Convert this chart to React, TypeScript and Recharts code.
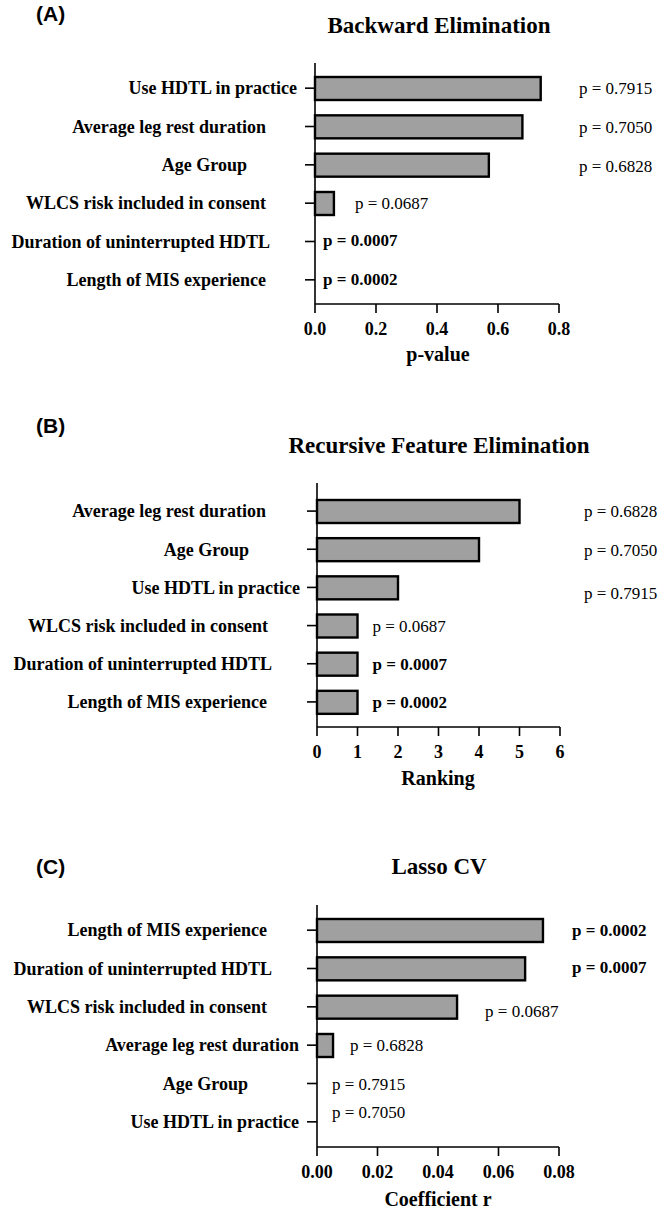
import React from 'react';
import { BarChart, Bar, XAxis, YAxis } from 'recharts';

// ---------- DATA ----------
const categoriesA = [
  'Use HDTL in practice',
  'Average leg rest duration',
  'Age Group',
  'WLCS risk included in consent',
  'Duration of uninterrupted HDTL',
  'Length of MIS experience',
];
const valuesA = [0.74, 0.68, 0.57, 0.062, 0, 0];
const pValuesA = ['0.7915', '0.7050', '0.6828', '0.0687', '0.0007', '0.0002'];
const ticksA = [0, 0.2, 0.4, 0.6, 0.8];

const categoriesB = [
  'Average leg rest duration',
  'Age Group',
  'Use HDTL in practice',
  'WLCS risk included in consent',
  'Duration of uninterrupted HDTL',
  'Length of MIS experience',
];
const valuesB = [5, 4, 2, 1, 1, 1];
const pValuesB = ['0.6828', '0.7050', '0.7915', '0.0687', '0.0007', '0.0002'];
const ticksB = [0, 1, 2, 3, 4, 5, 6];

const categoriesC = [
  'Length of MIS experience',
  'Duration of uninterrupted HDTL',
  'WLCS risk included in consent',
  'Average leg rest duration',
  'Age Group',
  'Use HDTL in practice',
];
const valuesC = [0.0747, 0.0688, 0.0463, 0.0053, 0, 0];
const pValuesC = ['0.0002', '0.0007', '0.0687', '0.6828', '0.7915', '0.7050'];
const ticksC = [0, 0.02, 0.04, 0.06, 0.08];

const titles = ['Backward Elimination', 'Recursive Feature Elimination', 'Lasso CV'];
const panelLetters = ['(A)', '(B)', '(C)'];
const axisTitles = ['p-value', 'Ranking', 'Coefficient r'];

// ---------- STYLE ----------
const SERIF = '"Liberation Serif", "Times New Roman", Times, serif';
const SANS = '"Liberation Sans", Arial, Helvetica, sans-serif';
const X_AXIS_H = 60;

type Placement = { mode: 'col' | 'end'; dx: number; dy: number };

const build = (cats: string[], vals: number[], ps: string[]) =>
  cats.map((c, i) => ({ name: c, value: vals[i], p: ps[i] }));

const panels = [
  {
    data: build(categoriesA, valuesA, pValuesA),
    pList: pValuesA,
    ticks: ticksA,
    decimals: 1,
    top: 0,
    height: 380,
    margin: { top: 63, right: 102, bottom: 16, left: 0 },
    yWidth: 315,
    yPadding: { top: 6, bottom: 5 },
    labelRight: {
      'Use HDTL in practice': -18,
      'Average leg rest duration': -49,
      'Age Group': -68,
      'WLCS risk included in consent': -49,
      'Duration of uninterrupted HDTL': -45,
      'Length of MIS experience': -49,
    } as Record<string, number>,
    placements: [
      { mode: 'col', dx: 264, dy: 0 },
      { mode: 'col', dx: 264, dy: 0 },
      { mode: 'col', dx: 264, dy: 1 },
      { mode: 'end', dx: 21, dy: 0 },
      { mode: 'end', dx: 8, dy: -2 },
      { mode: 'end', dx: 8, dy: -1 },
    ] as Placement[],
  },
  {
    data: build(categoriesB, valuesB, pValuesB),
    pList: pValuesB,
    ticks: ticksB,
    decimals: 0,
    top: 400,
    height: 400,
    margin: { top: 83, right: 101, bottom: 13, left: 0 },
    yWidth: 317,
    yPadding: { top: 9, bottom: 6 },
    labelRight: {
      'Average leg rest duration': -51,
      'Age Group': -68,
      'Use HDTL in practice': -17,
      'WLCS risk included in consent': -49,
      'Duration of uninterrupted HDTL': -45,
      'Length of MIS experience': -50,
    } as Record<string, number>,
    placements: [
      { mode: 'col', dx: 267, dy: 0 },
      { mode: 'col', dx: 267, dy: 0 },
      { mode: 'col', dx: 267, dy: 5 },
      { mode: 'end', dx: 15, dy: 0 },
      { mode: 'end', dx: 15, dy: 0 },
      { mode: 'end', dx: 15, dy: 0 },
    ] as Placement[],
  },
  {
    data: build(categoriesC, valuesC, pValuesC),
    pList: pValuesC,
    ticks: ticksC,
    decimals: 2,
    top: 820,
    height: 393,
    margin: { top: 85, right: 102, bottom: 6, left: 0 },
    yWidth: 317,
    yPadding: { top: 6, bottom: 6 },
    labelRight: {
      'Length of MIS experience': -50,
      'Duration of uninterrupted HDTL': -45,
      'WLCS risk included in consent': -50,
      'Average leg rest duration': -18,
      'Age Group': -69,
      'Use HDTL in practice': -18,
    } as Record<string, number>,
    placements: [
      { mode: 'col', dx: 255, dy: 0 },
      { mode: 'col', dx: 255, dy: -2 },
      { mode: 'end', dx: 28, dy: 4 },
      { mode: 'end', dx: 17, dy: 0 },
      { mode: 'end', dx: 15, dy: 0 },
      { mode: 'end', dx: 15, dy: -10 },
    ] as Placement[],
  },
];

// overlay text positions (titles etc.)
const overlay = [
  { letterY: 21, titleY: 33, axisTitleY: 361 },
  { letterY: 433, titleY: 453, axisTitleY: 785 },
  { letterY: 874, titleY: 874, axisTitleY: 1206 },
];

function Panel({ cfg }: { cfg: (typeof panels)[number] }) {
  const axisX = cfg.yWidth + cfg.margin.left;
  const plotBottom = cfg.height - cfg.margin.bottom - X_AXIS_H;

  const YTick = (props: any) => {
    const { y, payload } = props;
    const off = cfg.labelRight[payload.value] ?? -49;
    return (
      <text
        x={axisX + off}
        y={y}
        dy="0.35em"
        textAnchor="end"
        fontFamily={SERIF}
        fontWeight="bold"
        fontSize={18}
        fill="#000"
      >
        {payload.value}
      </text>
    );
  };

  const XTick = (props: any) => {
    const { x, payload } = props;
    return (
      <text
        x={x}
        y={plotBottom + 31}
        textAnchor="middle"
        fontFamily={SERIF}
        fontWeight="bold"
        fontSize={18}
        fill="#000"
      >
        {Number(payload.value).toFixed(cfg.decimals)}
      </text>
    );
  };

  // bar shape + its p-value label (drawn even for zero-length bars)
  const BarWithLabel = (props: any) => {
    const { x, y, width, height, payload } = props;
    const bx = Number(x);
    const by = Number(y);
    const bw = Number(width) || 0;
    const bh = Number(height) || 0;
    const value: string = payload?.p ?? '';
    const i = cfg.pList.indexOf(value);
    const pl = cfg.placements[i >= 0 ? i : 0];
    const px = pl.mode === 'col' ? bx + pl.dx : bx + bw + pl.dx;
    const py = by + bh / 2 + pl.dy;
    const bold = parseFloat(value) < 0.05;
    return (
      <g>
        {bw > 0.5 && (
          <rect x={bx} y={by} width={bw} height={bh} fill="#a0a0a0" stroke="#000" strokeWidth={2.4} />
        )}
        <text
          x={px}
          y={py}
          dy="0.35em"
          textAnchor="start"
          fontFamily={SERIF}
          fontWeight={bold ? 'bold' : 'normal'}
          fontSize={17}
          fill="#000"
        >
          {`p = ${value}`}
        </text>
      </g>
    );
  };

  const maxTick = cfg.ticks[cfg.ticks.length - 1];

  return (
    <div style={{ position: 'absolute', left: 0, top: cfg.top, width: 661, height: cfg.height }}>
      <BarChart
        width={661}
        height={cfg.height}
        data={cfg.data}
        layout="vertical"
        margin={cfg.margin}
        barCategoryGap={0}
      >
        <XAxis
          type="number"
          domain={[0, maxTick]}
          ticks={cfg.ticks}
          interval={0}
          height={X_AXIS_H}
          tickSize={9}
          axisLine={{ stroke: '#000', strokeWidth: 1.6 }}
          tickLine={{ stroke: '#000', strokeWidth: 1.6 }}
          tick={<XTick />}
        />
        <YAxis
          type="category"
          dataKey="name"
          width={cfg.yWidth}
          interval={0}
          tickSize={10}
          padding={cfg.yPadding}
          axisLine={{ stroke: '#000', strokeWidth: 1.6 }}
          tickLine={{ stroke: '#000', strokeWidth: 1.6 }}
          tick={<YTick />}
        />
        <Bar
          dataKey="value"
          fill="#a0a0a0"
          stroke="#000"
          strokeWidth={2.4}
          barSize={23}
          isAnimationActive={false}
          shape={<BarWithLabel />}
        />
      </BarChart>
    </div>
  );
}

export default function App() {
  return (
    <div
      style={{
        position: 'absolute',
        left: 0,
        top: 0,
        width: 661,
        height: 1213,
        background: '#fff',
        overflow: 'hidden',
      }}
    >
      {panels.map((cfg, i) => (
        <Panel key={i} cfg={cfg} />
      ))}
      <svg
        width={661}
        height={1213}
        style={{ position: 'absolute', left: 0, top: 0, pointerEvents: 'none' }}
      >
        {overlay.map((o, i) => (
          <g key={i}>
            <text x={36} y={o.letterY} fontFamily={SANS} fontWeight="bold" fontSize={21} fill="#000">
              {panelLetters[i]}
            </text>
            <text
              x={439}
              y={o.titleY}
              textAnchor="middle"
              fontFamily={SERIF}
              fontWeight="bold"
              fontSize={23}
              fill="#000"
            >
              {titles[i]}
            </text>
            <text
              x={438}
              y={o.axisTitleY}
              textAnchor="middle"
              fontFamily={SERIF}
              fontWeight="bold"
              fontSize={20}
              fill="#000"
            >
              {axisTitles[i]}
            </text>
          </g>
        ))}
      </svg>
    </div>
  );
}
